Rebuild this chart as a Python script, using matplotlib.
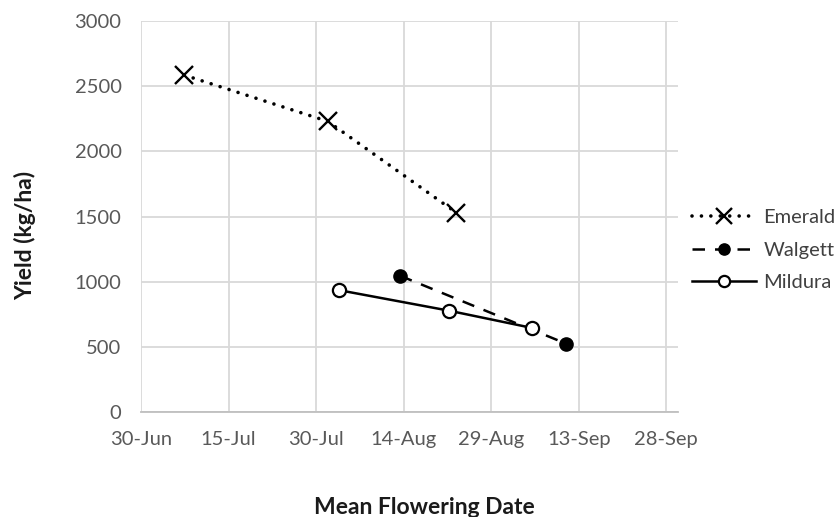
import matplotlib
matplotlib.use("Agg")
import matplotlib.pyplot as plt

# Days after 30-Jun (mean flowering date) and yields (kg/ha)
emerald_days = [7.4, 32.0, 54.0]
emerald_yield = [2585, 2230, 1530]
walgett_days = [44.4, 72.8]
walgett_yield = [1045, 525]
mildura_days = [33.9, 52.7, 67.0]
mildura_yield = [935, 778, 645]

tick_days = [0, 15, 30, 45, 60, 75, 90]
tick_labels = ["30-Jun", "15-Jul", "30-Jul", "14-Aug", "29-Aug", "13-Sep", "28-Sep"]
y_ticks = [0, 500, 1000, 1500, 2000, 2500, 3000]

plt.rcParams['font.family'] = ['Lato', 'DejaVu Sans']

W, H = 839, 517
fig = plt.figure(figsize=(W / 100, H / 100), dpi=100)
ax = fig.add_axes([141 / W, 1 - 412 / H, (678 - 141) / W, (412 - 21) / H])

grid_c = '#d9d9d9'
ax.set_xlim(0, 92)
ax.set_ylim(0, 3000)
ax.set_xticks(tick_days)
ax.set_xticklabels(tick_labels)
ax.set_yticks(y_ticks)
ax.grid(True, color=grid_c, linewidth=1.3)
ax.set_axisbelow(True)
for s in ['top', 'right', 'left']:
    ax.spines[s].set_visible(False)
ax.spines['bottom'].set_color('#bfbfbf')
ax.spines['bottom'].set_linewidth(1.3)
ax.tick_params(length=0, labelsize=14.5, colors='#595959')
ax.tick_params(axis='x', pad=14)
ax.tick_params(axis='y', pad=14)

ax.plot(emerald_days, emerald_yield, color='black', linewidth=2.6,
        linestyle=(0, (0.01, 2.6)), dash_capstyle='round',
        marker='x', markersize=13, markeredgewidth=1.7, label='Emerald', zorder=3)
ax.plot(walgett_days, walgett_yield, color='black', linewidth=1.8,
        linestyle=(0, (5.0, 4.0)),
        marker='o', markersize=9.5, markerfacecolor='black', markeredgecolor='black',
        label='Walgett', zorder=3)
ax.plot(mildura_days, mildura_yield, color='black', linewidth=1.8,
        marker='o', markersize=9.5, markerfacecolor='white', markeredgecolor='black',
        markeredgewidth=1.6, label='Mildura', zorder=4)

leg = ax.legend(loc='center left', bbox_to_anchor=(692 / W, 1 - 250 / H),
                bbox_transform=fig.transFigure, frameon=False, borderpad=0,
                borderaxespad=0, handlelength=3.2, handletextpad=0.35,
                labelspacing=0.75, fontsize=14.5, markerscale=0.85)
for t in leg.get_texts():
    t.set_color('#404040')

fig.text(25 / W, 1 - 235 / H, 'Yield (kg/ha)', rotation=90, ha='center', va='center',
         fontsize=16.5, fontweight='bold', color='#1a1a1a')
fig.text(424 / W, 1 - 508 / H, 'Mean Flowering Date', ha='center', va='center',
         fontsize=16.5, fontweight='bold', color='#1a1a1a')

fig.savefig('out.png', dpi=100)
